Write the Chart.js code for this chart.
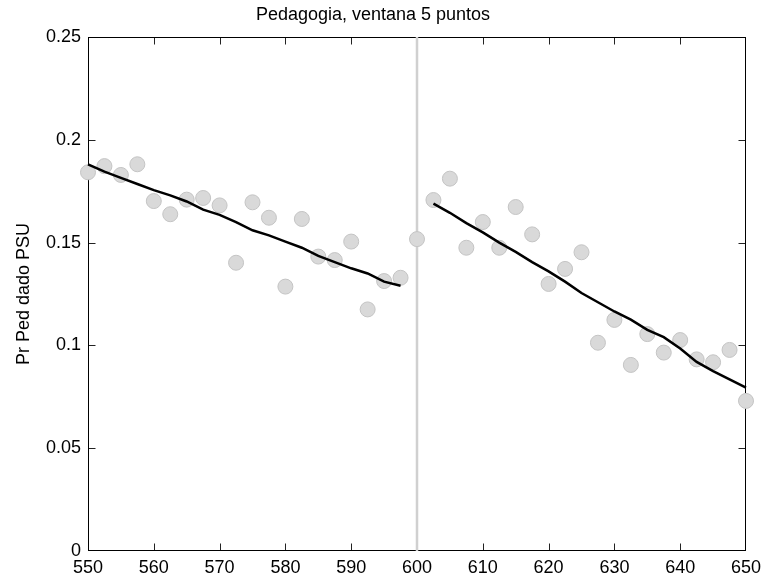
<!DOCTYPE html>
<html><head><meta charset="utf-8">
<script src="https://cdn.jsdelivr.net/npm/chart.js@4"></script>
<style>html,body{margin:0;padding:0;background:#fff}#wrap{width:762px;height:579px}</style>
</head><body><div id="wrap"><canvas id="c" width="762" height="579"></canvas></div>
<script>
const titleText = 'Pedagogia, ventana 5 puntos';
const yTitle = 'Pr Ped dado PSU';
const xTicks = [550,560,570,580,590,600,610,620,630,640,650];
const yTicks = [0,0.05,0.1,0.15,0.2,0.25];
const cutoff = 600;

const xLeft = [550,552.5,555,557.5,560,562.5,565,567.5,570,572.5,575,577.5,580,582.5,585,587.5,590,592.5,595,597.5];
const yLeft = [0.1842,0.1872,0.1829,0.1881,0.1702,0.1638,0.1709,0.1717,0.1681,0.1402,0.1696,0.1621,0.1286,0.1615,0.1432,0.1415,0.1505,0.1175,0.1313,0.1329];
const fitLeft = [0.188,0.1845,0.1815,0.1785,0.1755,0.173,0.170,0.166,0.1635,0.160,0.156,0.1535,0.1505,0.1475,0.1435,0.1405,0.1375,0.135,0.131,0.129];

const xRight = [600,602.5,605,607.5,610,612.5,615,617.5,620,622.5,625,627.5,630,632.5,635,637.5,640,642.5,645,647.5,650];
const yRight = [0.1517,0.1707,0.1811,0.1475,0.16,0.1475,0.1673,0.154,0.1299,0.1372,0.1453,0.1013,0.1124,0.0905,0.1055,0.0965,0.1026,0.0932,0.0918,0.0978,0.073];
const xFitRight = [602.5,605,607.5,610,612.5,615,617.5,620,622.5,625,627.5,630,632.5,635,637.5,640,642.5,645,647.5,650];
const fitRight = [0.169,0.1645,0.1595,0.155,0.150,0.1455,0.1405,0.136,0.131,0.1255,0.121,0.1165,0.1125,0.1076,0.104,0.0985,0.092,0.0875,0.0835,0.0795];

const toPts = (xs, ys) => xs.map((v,i)=>({x:v,y:ys[i]}));
const FONT = {family:"'Liberation Sans', Arial, sans-serif", size:18};

const boxPlugin = {
  id:'box',
  beforeDatasetsDraw(chart){
    const {ctx, chartArea:a, scales:{x,y}} = chart;
    ctx.save();
    const L=Math.round(a.left)+0.5, R=Math.round(a.right)-0.5, T=Math.round(a.top)+0.5, B=Math.round(a.bottom)-0.5;
    const tl=7;
    ctx.strokeStyle='#222'; ctx.lineWidth=1;
    ctx.beginPath();
    xTicks.forEach(v=>{
      if(v===x.min||v===x.max) return;
      const px=Math.round(x.getPixelForValue(v))+0.5;
      ctx.moveTo(px,B); ctx.lineTo(px,B-tl);
      ctx.moveTo(px,T); ctx.lineTo(px,T+tl);
    });
    yTicks.forEach(v=>{
      if(v===y.min||v===y.max) return;
      const py=Math.round(y.getPixelForValue(v))+0.5;
      ctx.moveTo(L,py); ctx.lineTo(L+tl,py);
      ctx.moveTo(R,py); ctx.lineTo(R-tl,py);
    });
    ctx.stroke();
    ctx.strokeStyle='#000';
    ctx.strokeRect(L,T,R-L,B-T);
    ctx.restore();
  }
};

new Chart(document.getElementById('c'), {
  type:'scatter',
  data:{datasets:[
    {label:'corte', data:[{x:cutoff,y:yTicks[0]},{x:cutoff,y:yTicks[yTicks.length-1]}], showLine:true, borderColor:'#d0d0d0', borderWidth:2.5, pointRadius:0, order:5},
    {label:'izq', data:toPts(xLeft,yLeft), pointRadius:7.5, pointBackgroundColor:'#d9d9d9', pointBorderColor:'#c4c4c4', pointBorderWidth:1, order:4},
    {label:'der', data:toPts(xRight,yRight), pointRadius:7.5, pointBackgroundColor:'#d9d9d9', pointBorderColor:'#c4c4c4', pointBorderWidth:1, order:3},
    {label:'ajusteIzq', data:toPts(xLeft,fitLeft), showLine:true, borderColor:'#000', borderWidth:2.5, pointRadius:0, order:2},
    {label:'ajusteDer', data:toPts(xFitRight,fitRight), showLine:true, borderColor:'#000', borderWidth:2.5, pointRadius:0, order:1}
  ].map(d=>Object.assign(d,{clip:false}))},
  options:{
    responsive:false, animation:false, devicePixelRatio:1,
    layout:{padding:{left:0,right:16,top:0,bottom:0}},
    plugins:{
      legend:{display:false}, tooltip:{enabled:false},
      title:{display:true, text:titleText, color:'#000', font:Object.assign({},FONT,{weight:'normal'}), padding:{top:4,bottom:11.4}}
    },
    scales:{
      x:{type:'linear', min:xTicks[0], max:xTicks[xTicks.length-1],
        afterBuildTicks:s=>{s.ticks=xTicks.map(v=>({value:v}));},
        afterFit:s=>{s.height=28; s.paddingLeft=0; s.paddingRight=0;},
        grid:{display:false, drawTicks:false}, border:{display:false},
        ticks:{color:'#000', font:FONT, padding:6, maxRotation:0, autoSkip:false, callback:v=>String(v)}},
      y:{type:'linear', min:yTicks[0], max:yTicks[yTicks.length-1],
        afterBuildTicks:s=>{s.ticks=yTicks.map(v=>({value:v}));},
        afterFit:s=>{s.width=88; s.paddingTop=0; s.paddingBottom=0;},
        grid:{display:false, drawTicks:false}, border:{display:false},
        title:{display:true, text:yTitle, color:'#000', font:FONT, padding:{top:13,bottom:0}},
        ticks:{color:'#000', font:FONT, padding:7, autoSkip:false, callback:v=>String(+Number(v).toFixed(2))}}
    }
  },
  plugins:[boxPlugin]
});
</script></body></html>
